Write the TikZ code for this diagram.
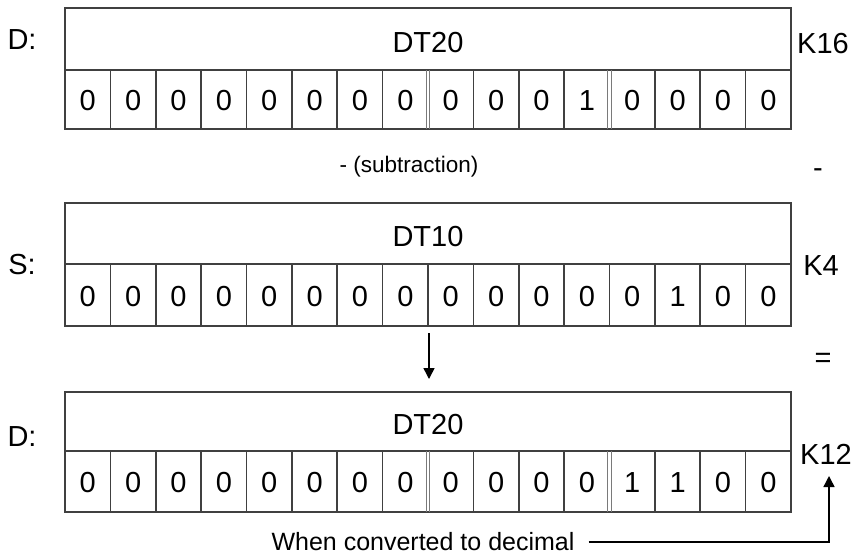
\documentclass[tikz,border=0pt]{standalone}
\usepackage{fontspec}
\setmainfont{Liberation Sans}
\usetikzlibrary{arrows.meta,calc}
\definecolor{lineGray}{HTML}{404040}
\definecolor{dblGray}{HTML}{7A7A7A}
\begin{document}
\begin{tikzpicture}[x=1pt,y=-1pt,
  boxline/.style={draw=lineGray, line width=1.6pt},
  dblline/.style={draw=dblGray, line width=1.1pt},
  big/.style={font=\fontsize{29}{29}\selectfont, inner sep=0pt, text height=20.5pt, text depth=0pt},
  small/.style={font=\fontsize{25}{25}\selectfont, inner sep=0pt, text height=18pt, text depth=0pt},
  smaller/.style={font=\fontsize{22.5}{22.5}\selectfont, inner sep=0pt, text height=16pt, text depth=0pt},
  arr/.style={draw=black, line width=1.5pt, -{Triangle[length=11pt,width=11pt]}}]
\useasboundingbox (0,0) rectangle (858,555);
\def\L{65}\def\R{791}\def\W{45.375}
% register box: #1 top, #2 divider, #3 bottom, #4 digits, #5 double positions, #6 name, #7 title
\newcommand\regbox[7]{%
  \draw[boxline] (\L,#1) rectangle (\R,#3);
  \draw[boxline] (\L,#2) -- (\R,#2);
  \foreach \i in {1,...,15}{%
    \draw[boxline] (\L+\i*\W,#2) -- (\L+\i*\W,#3);}
  \foreach \i in {#5}{%
    \fill[white] (\L+\i*\W-2.4,#2+0.8) rectangle (\L+\i*\W+2.4,#3-0.8);
    \draw[dblline] (\L+\i*\W-1.8,#2) -- (\L+\i*\W-1.8,#3);
    \draw[dblline] (\L+\i*\W+1.8,#2) -- (\L+\i*\W+1.8,#3);}
  \foreach \d [count=\i] in {#4}{%
    \node[big] at (\L+\i*\W-0.5*\W,{(#2+#3)/2+1}) {\d};}
  \node[big] (#6) at (428,{(#1+#2)/2+3}) {#7};
}
\regbox{8}{70}{129}{0,0,0,0,0,0,0,0,0,0,0,1,0,0,0,0}{8,12}{t1}{DT20}
\regbox{203}{264}{326}{0,0,0,0,0,0,0,0,0,0,0,0,0,1,0,0}{}{t2}{DT10}
\regbox{392}{451}{512}{0,0,0,0,0,0,0,0,0,0,0,0,1,1,0,0}{8,12}{t3}{DT20}
% side labels
\node[big] (lD1) at (22,39) {D:};
\node[big] (lS) at (22,264) {S:};
\node[big] (lD2) at (22,436) {D:};
\node[big] (k16) at (823,43) {K16};
\node[big] (k4) at (821,265) {K4};
\node[big] (k12) at (826,454) {K12};
% operators
\node[smaller] (sub) at (409,164) {- (subtraction)};
\node[big] (minus) at (818,167) {-};
\node[big] (eq) at (823,357) {=};
% down arrow
\coordinate (dtop) at (429,333);
\coordinate (dbot) at (429,379);
\draw[arr] (dtop) -- (dbot);
% bottom note
\node[small] (note) at (423,541) {When converted to decimal};
\coordinate (turn) at (829,542);
\coordinate (tip) at (829,476);
\draw[arr] ([xshift=14pt]note.east |- turn) -- (turn) -- (tip);
\end{tikzpicture}
\end{document}
